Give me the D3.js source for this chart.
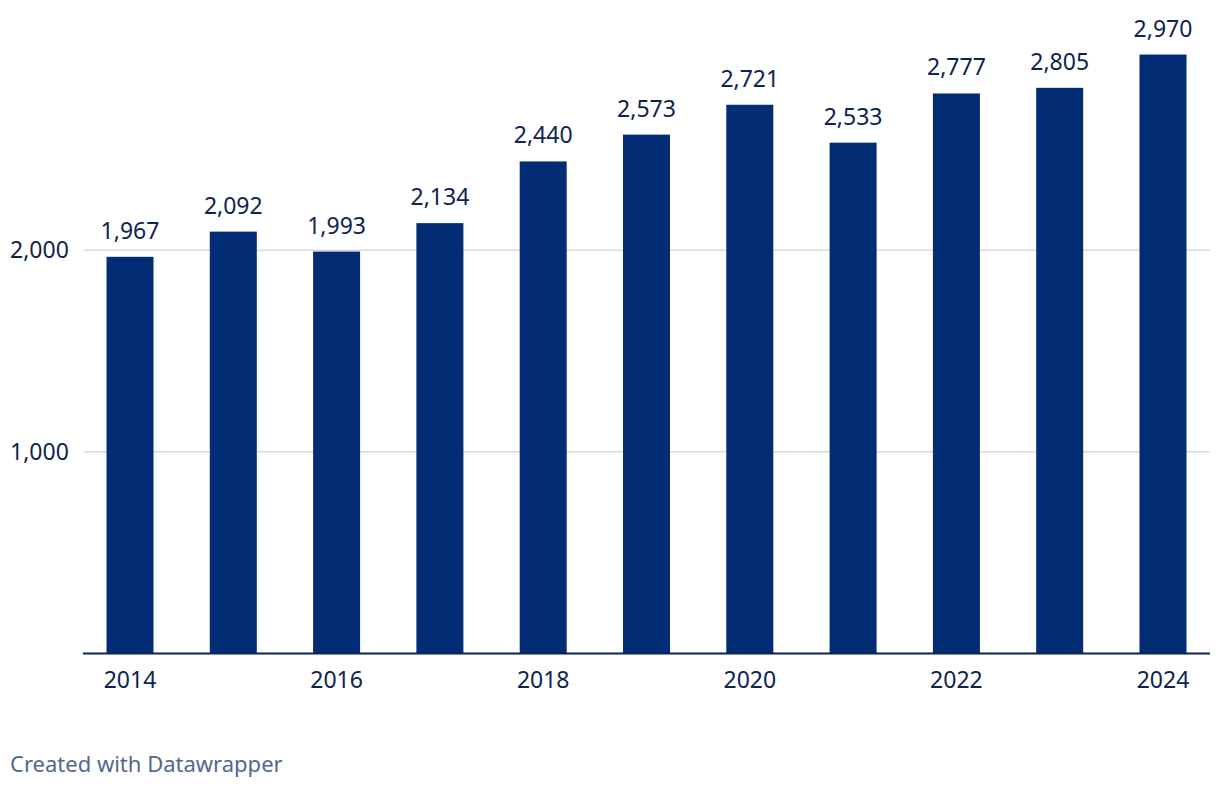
<!DOCTYPE html>
<html><head><meta charset="utf-8">
<script src="https://cdn.jsdelivr.net/npm/d3@7"></script>
<style>body{margin:0;background:#fff;}text{font-family:"Noto Sans",sans-serif;}</style>
</head><body>
<svg id="c" width="1220" height="788"></svg>
<script>
const years = ["2014","2015","2016","2017","2018","2019","2020","2021","2022","2023","2024"];
const values = [1967,2092,1993,2134,2440,2573,2721,2533,2777,2805,2970];
const yTicks = [1000,2000];
const xTickLabels = ["2014","2016","2018","2020","2022","2024"];

const svg = d3.select("#c");
const x = d3.scaleBand().domain(years).range([83,1210]).paddingInner(0.545).paddingOuter(0.2275);
const y = d3.scaleLinear().domain([0,3000]).range([653.5,48.5]);
const navy = "#0d2352", bar = "#022c74";

svg.selectAll("line.grid").data(yTicks).join("line")
  .attr("x1",84).attr("x2",1210).attr("y1",d=>y(d)).attr("y2",d=>y(d))
  .attr("stroke","#d9d9d9").attr("stroke-width",1.5);
svg.selectAll("text.yl").data(yTicks).join("text")
  .attr("x",10).attr("y",d=>y(d)+8).attr("font-size",23).attr("fill",navy)
  .text(d=>d3.format(",")(d));

svg.selectAll("rect.bar").data(values).join("rect")
  .attr("x",(d,i)=>x(years[i])).attr("width",x.bandwidth())
  .attr("y",d=>y(d)).attr("height",d=>y(0)-y(d)).attr("fill",bar);

svg.selectAll("text.vl").data(values).join("text")
  .attr("x",(d,i)=>x(years[i])+x.bandwidth()/2).attr("y",d=>y(d)-18)
  .attr("text-anchor","middle").attr("font-size",23).attr("fill",navy)
  .text(d=>d3.format(",")(d));

svg.append("line").attr("x1",83).attr("x2",1210).attr("y1",y(0)).attr("y2",y(0))
  .attr("stroke",navy).attr("stroke-width",2);

svg.selectAll("text.xl").data(xTickLabels).join("text")
  .attr("x",d=>x(d)+x.bandwidth()/2).attr("y",688)
  .attr("text-anchor","middle").attr("font-size",23).attr("fill",navy).text(d=>d);

svg.append("text").attr("x",10).attr("y",772).attr("font-size",22).attr("fill","#52688f")
  .text("Created with Datawrapper");
</script>
</body></html>
